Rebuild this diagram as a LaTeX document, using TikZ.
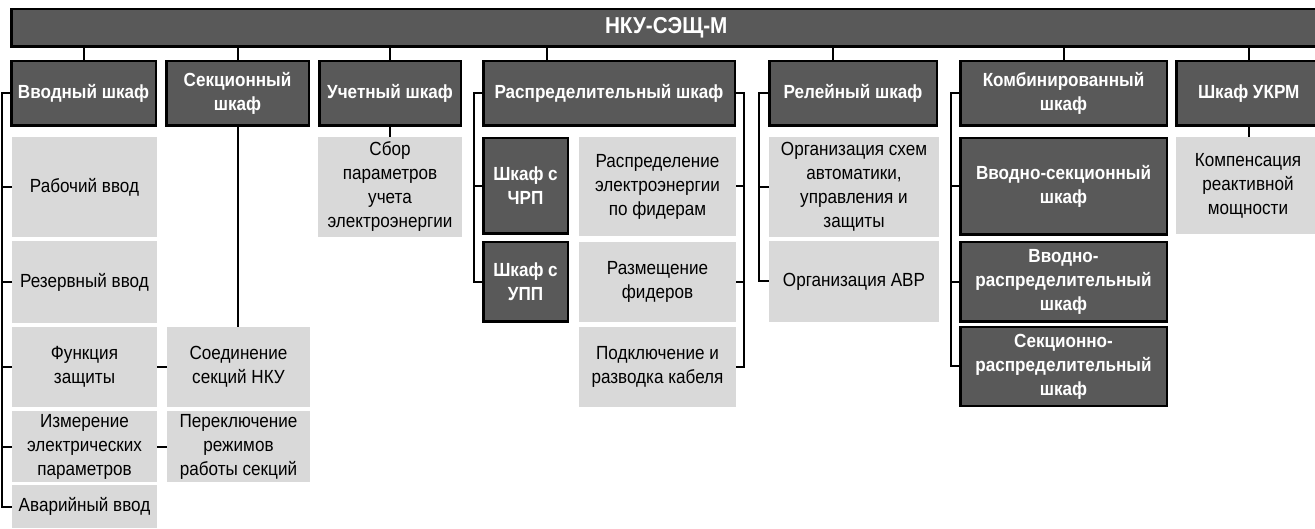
\documentclass[tikz,border=0pt]{standalone}
\usepackage{fontspec}
\setmainfont{Liberation Sans}[FakeStretch=0.9]
\usetikzlibrary{
    positioning,
    calc
}
\definecolor{boxdark}{HTML}{595959}
\definecolor{boxlight}{HTML}{D9D9D9}
\tikzset{
    cabinet/.style = {
        rectangle,
        draw,
        line width=2.5pt,
        fill=boxdark,
        text=white,
        font=\fontsize{19}{24}\selectfont\bfseries,
        align=center,
        anchor=north west,
        inner sep=1pt,
        outer sep=0pt
    },
    feature/.style = {
        rectangle,
        fill=boxlight,
        font=\fontsize{19}{24}\selectfont,
        align=center,
        anchor=north west,
        inner sep=1pt,
        outer sep=0pt
    },
    wire/.style = {
        line width=2pt
    }
}

\begin{document}
\begin{tikzpicture}[x=1pt, y=-1pt]
\useasboundingbox (0,0) rectangle (1315,529);

% top bar
\node[cabinet, minimum width=1310pt, minimum height=37.5pt,
    font=\fontsize{23}{26}\selectfont\bfseries] (top) at (11.25,9.25) {НКУ-СЭЩ-М};

% cabinets
\node[cabinet, minimum width=144.5pt, minimum height=64.5pt] (vvod)  at (11.25,61.25)  {Вводный шкаф};
\node[cabinet, minimum width=142.5pt, minimum height=64.5pt] (sekc)  at (166.25,61.25) {Секционный\\шкаф};
\node[cabinet, minimum width=141.5pt, minimum height=64.5pt] (uchet) at (319.25,61.25) {Учетный шкаф};
\node[cabinet, minimum width=251.5pt, minimum height=64.5pt] (raspr) at (483.25,61.25) {Распределительный шкаф};
\node[cabinet, minimum width=167.5pt, minimum height=64.5pt] (rele)  at (769.25,61.25) {Релейный шкаф};
\node[cabinet, minimum width=206.5pt, minimum height=64.5pt] (komb)  at (960.25,61.25) {Комбинированный\\шкаф};
\node[cabinet, minimum width=145pt,   minimum height=64.5pt] (ukrm)  at (1176.25,61.25) {Шкаф УКРМ};

% Вводный шкаф
\node[feature, minimum width=145pt, minimum height=100pt] (rab)   at (12,137) {Рабочий ввод};
\node[feature, minimum width=145pt, minimum height=82pt]  (rez)   at (12,241) {Резервный ввод};
\node[feature, minimum width=145pt, minimum height=80pt]  (funcz) at (12,327) {Функция\\защиты};
\node[feature, minimum width=145pt, minimum height=71pt]  (izm)   at (12,411) {Измерение\\электрических\\параметров};
\node[feature, minimum width=145pt, minimum height=43pt]  (avar)  at (12,485) {Аварийный ввод};

% Секционный шкаф
\node[feature, minimum width=143pt, minimum height=80pt] (soed)   at (167,327) {Соединение\\секций НКУ};
\node[feature, minimum width=143pt, minimum height=71pt] (perekl) at (167,411) {Переключение\\режимов\\работы секций};

% Учетный шкаф
\node[feature, minimum width=144pt, minimum height=100pt] (sbor) at (318,137) {Сбор\\параметров\\учета\\электроэнергии};

% Распределительный шкаф
\node[cabinet, minimum width=84.5pt, minimum height=95.5pt] (chrp) at (483.25,138.25) {Шкаф с\\ЧРП};
\node[cabinet, minimum width=84.5pt, minimum height=79.5pt] (upp)  at (483.25,242.25) {Шкаф с\\УПП};
\node[feature, minimum width=157pt, minimum height=99pt] (raspEl) at (579,137) {Распределение\\электроэнергии\\по фидерам};
\node[feature, minimum width=157pt, minimum height=80pt] (razm)   at (579,242) {Размещение\\фидеров};
\node[feature, minimum width=157pt, minimum height=80pt] (podkl)  at (579,327) {Подключение и\\разводка кабеля};

% Релейный шкаф
\node[feature, minimum width=170pt, minimum height=100pt] (org) at (769,137) {Организация схем\\автоматики,\\управления и\\защиты};
\node[feature, minimum width=170pt, minimum height=81pt]  (avr) at (769,241) {Организация АВР};

% Комбинированный шкаф
\node[cabinet, minimum width=206.5pt, minimum height=96.5pt] (vs) at (960.25,138.25) {Вводно-секционный\\шкаф};
\node[cabinet, minimum width=206.5pt, minimum height=79.5pt] (vr) at (960.25,242.25) {Вводно-\\распределительный\\шкаф};
\node[cabinet, minimum width=206.5pt, minimum height=78.5pt] (sr) at (960.25,327.25) {Секционно-\\распределительный\\шкаф};

% Шкаф УКРМ
\node[feature, minimum width=144pt, minimum height=97pt] (komp) at (1176,137) {Компенсация\\реактивной\\мощности};

% connectors
\foreach \n in {vvod,sekc,uchet,komb,ukrm}
    \draw[wire] (top.south -| \n.north) -- (\n.north);
\draw[wire] ([xshift=-62pt]raspr.north) -- ([xshift=-62pt]raspr.north |- top.south);
\draw[wire] ([xshift=-20pt]rele.north) -- ([xshift=-20pt]rele.north |- top.south);

\draw[wire] (vvod.west) -- ++(-9,0) coordinate (busA) |- (avar.west);
\foreach \n in {rab,rez,funcz,izm}
    \draw[wire] (\n.west) -- (\n.west -| busA);
\draw[wire] (sekc.south) -- (sekc.south |- soed.north);
\draw[wire] (funcz.east) -- (soed.west);
\draw[wire] (izm.east) -- (perekl.west);
\draw[wire] (uchet.south) -- (uchet.south |- sbor.north);

\draw[wire] (raspr.west) -- ++(-9,0) coordinate (busB) |- (upp.west);
\draw[wire] (chrp.west) -- (chrp.west -| busB);
\draw[wire] (raspr.east) -- ++(9,0) coordinate (busC) |- (podkl.east);
\foreach \n in {raspEl,razm}
    \draw[wire] (\n.east) -- (\n.east -| busC);

\draw[wire] (rele.west) -- ++(-10,0) coordinate (busD) |- (avr.west);
\draw[wire] (org.west) -- (org.west -| busD);

\draw[wire] (komb.west) -- ++(-9,0) coordinate (busE) |- (sr.west);
\foreach \n in {vs,vr}
    \draw[wire] (\n.west) -- (\n.west -| busE);

\draw[wire] (ukrm.south) -- (ukrm.south |- komp.north);
\end{tikzpicture}
\end{document}
